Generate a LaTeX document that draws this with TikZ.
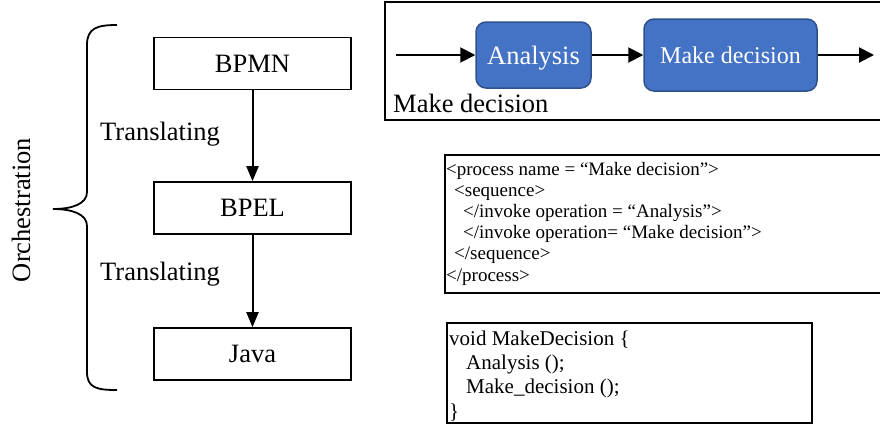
\documentclass[tikz,border=0pt]{standalone}
\usepackage{fontspec}
\setmainfont{Liberation Serif}
\usetikzlibrary{arrows.meta}
\definecolor{bpblue}{HTML}{4472C4}
\definecolor{bpborder}{HTML}{2F528F}
\begin{document}
\begin{tikzpicture}[x=1bp,y=-1bp,
  lbl/.style={inner sep=0, font=\fontsize{26.5bp}{30bp}\selectfont},
  lbox/.style={draw, line width=1.6bp, minimum width=197bp, minimum height=52bp, inner sep=0, font=\fontsize{26.5bp}{30bp}\selectfont},
  task/.style={draw=bpborder, fill=bpblue, rounded corners=10bp, line width=1.5bp, text=white, inner sep=0, text depth=0pt},
  arr/.style={line width=2bp, -{Triangle[length=15bp,width=15bp]}},
  varr/.style={line width=2bp, -{Triangle[length=15bp,width=12bp]}},
  frame/.style={line width=1.8bp},
  codeA/.style={inner sep=0, anchor=base west, font=\fontsize{19bp}{21bp}\selectfont},
  codeB/.style={inner sep=0, anchor=base west, font=\fontsize{21bp}{24bp}\selectfont}
]
\useasboundingbox (0,0) rectangle (880,429);

% left column
\node[lbox] (bpmn) at (252.5,63.5) {BPMN};
\node[lbox] (bpel) at (252.5,208) {BPEL};
\node[lbox] (java) at (252.5,354) {Java};
\draw[varr] (bpmn) -- (bpel);
\draw[varr] (bpel) -- (java);
\node[lbl, anchor=base west] (t1) at (100,140) {Translating};
\node[lbl, anchor=base west] (t2) at (100,280) {Translating};
\node[lbl, rotate=90] (orch) at (21,210) {Orchestration};
\draw[line width=1.8bp] (117,25) .. controls (97,25) and (87,28) .. (87,45) -- (87,192)
  .. controls (87,204) and (72,209) .. (53,209)
  .. controls (72,209) and (87,214) .. (87,226) -- (87,372)
  .. controls (87,388) and (97,390) .. (117,390);

% BPMN frame
\draw[frame] (882,2) -| (385,120) -- (882,120);
\node[task, minimum width=115bp, minimum height=66bp, text height=18bp, font=\fontsize{26.5bp}{30bp}\selectfont] (ana) at (533.5,55) {Analysis};
\node[task, minimum width=173bp, minimum height=72bp, text height=17bp, font=\fontsize{24bp}{28bp}\selectfont] (md) at (730.5,55) {Make decision};
\coordinate (in) at (396,55);
\coordinate (out) at (874,55);
\draw[arr] (in) -- (ana);
\draw[arr] (ana) -- (md);
\draw[arr] (md) -- (out);
\node[lbl, anchor=base west] (mdl) at (393,112) {Make decision};

% BPEL code
\draw[frame] (882,155) -| (445,293) -- (882,293);
\node[codeA] (a1) at (446,175) {<process name = “Make decision”>};
\node[codeA] (a2) at (454,196.2) {<sequence>};
\node[codeA] (a3) at (463,217.4) {</invoke operation = “Analysis”>};
\node[codeA] (a4) at (463,238.6) {</invoke operation= “Make decision”>};
\node[codeA] (a5) at (454,259.8) {</sequence>};
\node[codeA] (a6) at (446,281) {</process>};

% Java code
\draw[frame] (447,323) rectangle (812,423);
\node[codeB] (b1) at (449,345) {void MakeDecision \{};
\node[codeB] (b2) at (466,369.4) {Analysis ();};
\node[codeB] (b3) at (466,393.8) {Make\_decision ();};
\node[codeB] (b4) at (449,418.2) {\}};
\end{tikzpicture}
\end{document}
